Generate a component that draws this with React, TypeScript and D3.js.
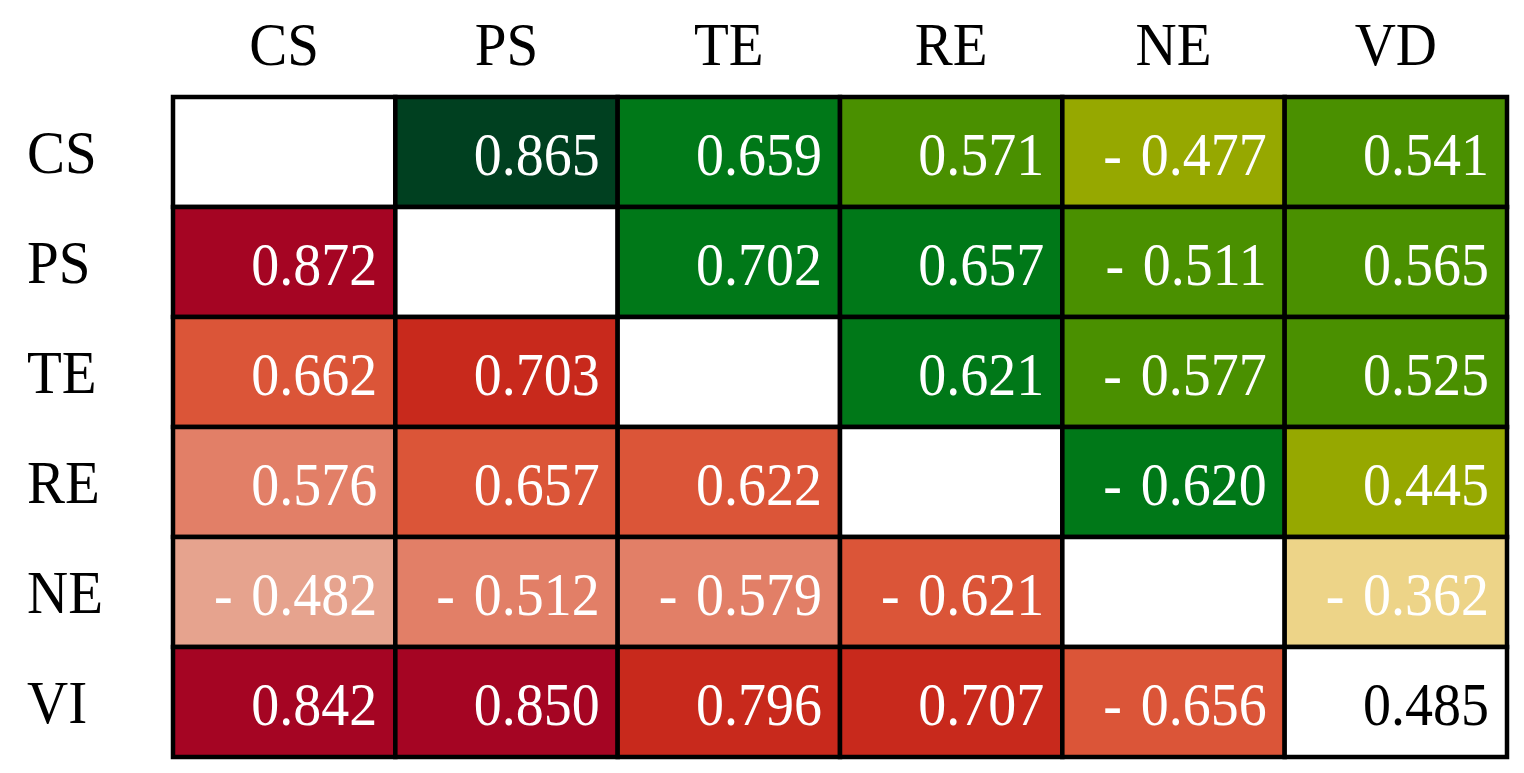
import * as d3 from "d3";
import React, { useEffect, useRef } from "react";

const columns = ["CS", "PS", "TE", "RE", "NE", "VD"];
const rows = ["CS", "PS", "TE", "RE", "NE", "VI"];

// null = empty diagonal cell
const csRow = [null, 0.865, 0.659, 0.571, -0.477, 0.541];
const psRow = [0.872, null, 0.702, 0.657, -0.511, 0.565];
const teRow = [0.662, 0.703, null, 0.621, -0.577, 0.525];
const reRow = [0.576, 0.657, 0.622, null, -0.62, 0.445];
const neRow = [-0.482, -0.512, -0.579, -0.621, null, -0.362];
const viRow = [0.842, 0.85, 0.796, 0.707, -0.656, 0.485];

const matrix = [csRow, psRow, teRow, reRow, neRow, viRow];

const W = 1524;
const H = 773;

const App: React.FC = () => {
  const svgRef = useRef<SVGSVGElement>(null);

  useEffect(() => {
    const svg = d3.select(svgRef.current);
    svg.selectAll("*").remove();

    const grid = { left: 173, right: 1507, top: 97, bottom: 757 };

    const x = d3.scaleBand().domain(columns).range([grid.left, grid.right]);
    const y = d3.scaleBand().domain(rows).range([grid.top, grid.bottom]);

    // lower triangle: reds, upper triangle: greens
    const redScale = d3
      .scaleThreshold<number, string>()
      .domain([0.5, 0.6, 0.7, 0.8])
      .range(["#e6a38e", "#e27f67", "#db5538", "#c8291c", "#a50523"]);
    const greenScale = d3
      .scaleThreshold<number, string>()
      .domain([0.4, 0.5, 0.6, 0.8])
      .range(["#edd488", "#96a800", "#4a9000", "#007818", "#004020"]);

    const cells: { r: string; c: string; v: number | null; i: number; j: number }[] = [];
    matrix.forEach((row, i) =>
      row.forEach((v, j) => cells.push({ r: rows[i], c: columns[j], v, i, j })),
    );

    const fillOf = (d: (typeof cells)[0]) => {
      if (d.v === null || d.i === d.j) return "#ffffff";
      const a = Math.abs(d.v);
      return d.i > d.j ? redScale(a) : greenScale(a);
    };

    const g = svg.append("g");

    g.selectAll("rect.cell")
      .data(cells)
      .join("rect")
      .attr("class", "cell")
      .attr("x", (d) => x(d.c)!)
      .attr("y", (d) => y(d.r)!)
      .attr("width", x.bandwidth())
      .attr("height", y.bandwidth())
      .attr("fill", fillOf)
      .attr("stroke", "#000")
      .attr("stroke-width", 4.5);

    // "- 0.477" style with a wider gap after the dash
    const fmt = (v: number) =>
      v < 0 ? "-\u2004" + d3.format(".3f")(-v) : d3.format(".3f")(v);

    g.selectAll("text.val")
      .data(cells.filter((d) => d.v !== null))
      .join("text")
      .attr("class", "val")
      .attr("text-anchor", "end")
      .attr("font-family", "'Liberation Serif', 'Times New Roman', serif")
      .attr("font-size", 56)
      .attr("fill", (d) => (d.i === d.j ? "#000" : "#fff"))
      .attr(
        "transform",
        (d) => `translate(${x(d.c)! + x.bandwidth() - 18}, ${y(d.r)! + 78}) scale(1, 1.1)`,
      )
      .text((d) => fmt(d.v as number));

    // column headers
    svg
      .append("g")
      .selectAll("text")
      .data(columns)
      .join("text")
      .attr("text-anchor", "middle")
      .attr("font-family", "'Liberation Serif', 'Times New Roman', serif")
      .attr("font-size", 57)
      .attr("fill", "#000")
      .attr("transform", (d) => `translate(${x(d)! + x.bandwidth() / 2}, 65) scale(1, 1.06)`)
      .text((d) => d);

    // row headers
    svg
      .append("g")
      .selectAll("text")
      .data(rows)
      .join("text")
      .attr("text-anchor", "start")
      .attr("font-family", "'Liberation Serif', 'Times New Roman', serif")
      .attr("font-size", 57)
      .attr("fill", "#000")
      .attr("transform", (d) => `translate(27, ${y(d)! + y.bandwidth() / 2 + 21}) scale(1, 1.06)`)
      .text((d) => d);
  }, []);

  return (
    <div style={{ position: "absolute", left: 0, top: 0 }}>
      <svg ref={svgRef} width={W} height={H} style={{ display: "block", background: "#fff" }}></svg>
    </div>
  );
};

export default App;
